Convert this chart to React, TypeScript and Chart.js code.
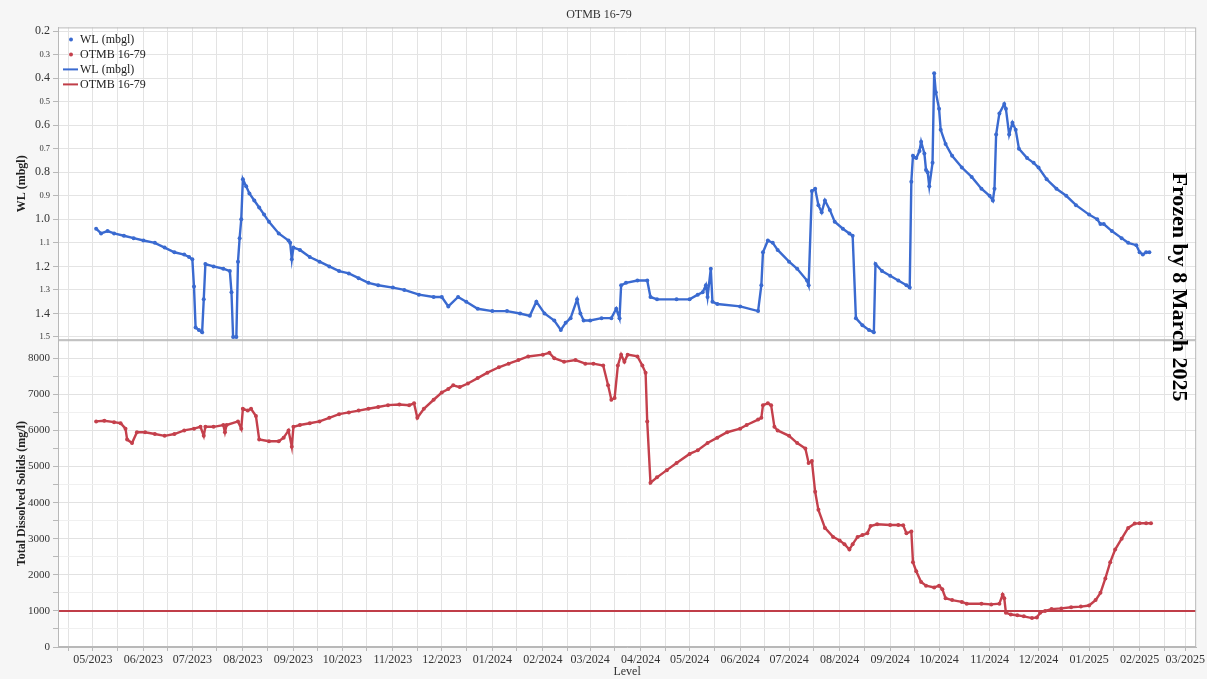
import React, { useEffect, useRef } from 'react';
import { Chart, registerables } from 'chart.js';

Chart.register(...registerables);

const FONT = '"Liberation Serif", "Times New Roman", serif';
const WL_COLOR = 'rgb(58,106,208)';
const TDS_COLOR = 'rgb(196,64,76)';
const LIMIT_COLOR = 'rgb(192,62,72)';

const chartTitle = 'OTMB 16-79';
const xTitle = 'Level';
const wlAxisTitle = 'WL (mbgl)';
const tdsAxisTitle = 'Total Dissolved Solids (mg/l)';
const noteText = 'Frozen by 8 March 2025';
const legendLabels = ['WL (mbgl)', 'OTMB 16-79', 'WL (mbgl)', 'OTMB 16-79'];

const xStart = '2023-04-10';
const xEnd = '2025-03-08';
const wlTicks = [0.2, 0.3, 0.4, 0.5, 0.6, 0.7, 0.8, 0.9, 1.0, 1.1, 1.2, 1.3, 1.4, 1.5];
const tdsTicks = [0, 500, 1000, 1500, 2000, 2500, 3000, 3500, 4000, 4500, 5000, 5500, 6000, 6500, 7000, 7500, 8000];
const tdsLimit = 1000;

const wlDates = [
  '2023-05-03', '2023-05-06', '2023-05-10', '2023-05-14', '2023-05-20', '2023-05-26', '2023-06-01', '2023-06-08',
  '2023-06-14', '2023-06-20', '2023-06-26', '2023-06-29', '2023-07-01', '2023-07-02', '2023-07-03', '2023-07-05',
  '2023-07-07', '2023-07-08', '2023-07-09', '2023-07-14', '2023-07-20', '2023-07-24', '2023-07-25', '2023-07-26',
  '2023-07-28', '2023-07-29', '2023-07-30', '2023-07-31', '2023-08-01', '2023-08-03', '2023-08-05', '2023-08-08',
  '2023-08-11', '2023-08-14', '2023-08-17', '2023-08-23', '2023-08-29', '2023-08-30', '2023-08-31', '2023-09-01',
  '2023-09-05', '2023-09-11', '2023-09-17', '2023-09-23', '2023-09-29', '2023-10-05', '2023-10-11', '2023-10-17',
  '2023-10-23', '2023-11-01', '2023-11-08', '2023-11-17', '2023-11-26', '2023-12-01', '2023-12-05', '2023-12-11',
  '2023-12-16', '2023-12-23', '2024-01-01', '2024-01-10', '2024-01-18', '2024-01-24', '2024-01-28', '2024-02-02',
  '2024-02-08', '2024-02-12', '2024-02-15', '2024-02-18', '2024-02-22', '2024-02-24', '2024-02-26', '2024-03-01',
  '2024-03-08', '2024-03-14', '2024-03-17', '2024-03-19', '2024-03-20', '2024-03-23', '2024-03-30', '2024-04-05',
  '2024-04-07', '2024-04-11', '2024-04-23', '2024-05-01', '2024-05-06', '2024-05-09', '2024-05-11', '2024-05-12',
  '2024-05-14', '2024-05-15', '2024-05-18', '2024-06-01', '2024-06-12', '2024-06-14', '2024-06-15', '2024-06-18',
  '2024-06-21', '2024-06-24', '2024-07-01', '2024-07-06', '2024-07-12', '2024-07-13', '2024-07-15', '2024-07-17',
  '2024-07-19', '2024-07-21', '2024-07-23', '2024-07-26', '2024-07-29', '2024-08-03', '2024-08-07', '2024-08-09',
  '2024-08-11', '2024-08-15', '2024-08-19', '2024-08-22', '2024-08-23', '2024-08-27', '2024-09-01', '2024-09-06',
  '2024-09-11', '2024-09-13', '2024-09-14', '2024-09-15', '2024-09-17', '2024-09-19', '2024-09-20', '2024-09-22',
  '2024-09-23', '2024-09-24', '2024-09-25', '2024-09-27', '2024-09-28', '2024-09-29', '2024-10-01', '2024-10-02',
  '2024-10-05', '2024-10-09', '2024-10-15', '2024-10-21', '2024-10-27', '2024-11-01', '2024-11-03', '2024-11-04',
  '2024-11-05', '2024-11-07', '2024-11-10', '2024-11-11', '2024-11-13', '2024-11-15', '2024-11-17', '2024-11-19',
  '2024-11-24', '2024-11-28', '2024-12-01', '2024-12-06', '2024-12-12', '2024-12-18', '2024-12-24', '2025-01-01',
  '2025-01-06', '2025-01-08', '2025-01-10', '2025-01-15', '2025-01-21', '2025-01-25', '2025-01-30', '2025-02-01',
  '2025-02-03', '2025-02-05', '2025-02-07',
];
const wlValues = [
  1.04, 1.06, 1.05, 1.06, 1.07, 1.08, 1.09, 1.10,
  1.12, 1.14, 1.15, 1.16, 1.17, 1.285, 1.46, 1.47,
  1.48, 1.34, 1.19, 1.20, 1.21, 1.22, 1.31, 1.50,
  1.50, 1.18, 1.08, 1.00, 0.83, 0.86, 0.89, 0.92,
  0.95, 0.98, 1.01, 1.06, 1.09, 1.10, 1.17, 1.12,
  1.13, 1.16, 1.18, 1.20, 1.22, 1.23, 1.25, 1.27,
  1.28, 1.29, 1.30, 1.32, 1.33, 1.33, 1.37, 1.33,
  1.35, 1.38, 1.39, 1.39, 1.40, 1.41, 1.35, 1.40,
  1.43, 1.47, 1.44, 1.42, 1.34, 1.40, 1.43, 1.43,
  1.42, 1.42, 1.38, 1.42, 1.28, 1.27, 1.26, 1.26,
  1.33, 1.34, 1.34, 1.34, 1.32, 1.31, 1.28, 1.33,
  1.21, 1.35, 1.36, 1.37, 1.39, 1.28, 1.14, 1.09,
  1.10, 1.13, 1.18, 1.21, 1.26, 1.28, 0.88, 0.87,
  0.94, 0.97, 0.92, 0.96, 1.01, 1.04, 1.06, 1.07,
  1.42, 1.45, 1.47, 1.48, 1.19, 1.22, 1.24, 1.26,
  1.28, 1.29, 0.84, 0.73, 0.74, 0.71, 0.67, 0.72,
  0.79, 0.80, 0.86, 0.76, 0.38, 0.46, 0.53, 0.62,
  0.68, 0.73, 0.78, 0.82, 0.87, 0.90, 0.92, 0.87,
  0.64, 0.55, 0.51, 0.53, 0.64, 0.59, 0.62, 0.70,
  0.74, 0.76, 0.78, 0.83, 0.87, 0.90, 0.94, 0.98,
  1.00, 1.02, 1.02, 1.05, 1.08, 1.10, 1.11, 1.14,
  1.15, 1.14, 1.14,
];

const tdsDates = [
  '2023-05-03', '2023-05-08', '2023-05-14', '2023-05-18', '2023-05-21', '2023-05-22', '2023-05-25', '2023-05-28',
  '2023-06-02', '2023-06-08', '2023-06-14', '2023-06-20', '2023-06-26', '2023-07-02', '2023-07-06', '2023-07-08',
  '2023-07-09', '2023-07-14', '2023-07-20', '2023-07-21', '2023-07-22', '2023-07-29', '2023-07-31', '2023-08-01',
  '2023-08-04', '2023-08-06', '2023-08-09', '2023-08-11', '2023-08-17', '2023-08-23', '2023-08-26', '2023-08-29',
  '2023-08-31', '2023-09-01', '2023-09-05', '2023-09-11', '2023-09-17', '2023-09-23', '2023-09-29', '2023-10-05',
  '2023-10-11', '2023-10-17', '2023-10-23', '2023-10-29', '2023-11-05', '2023-11-11', '2023-11-14', '2023-11-16',
  '2023-11-20', '2023-11-26', '2023-12-01', '2023-12-05', '2023-12-08', '2023-12-12', '2023-12-17', '2023-12-23',
  '2023-12-29', '2024-01-05', '2024-01-11', '2024-01-17', '2024-01-23', '2024-02-01', '2024-02-05', '2024-02-08',
  '2024-02-14', '2024-02-21', '2024-02-27', '2024-03-03', '2024-03-09', '2024-03-12', '2024-03-14', '2024-03-16',
  '2024-03-18', '2024-03-20', '2024-03-22', '2024-03-24', '2024-03-30', '2024-04-02', '2024-04-04', '2024-04-05',
  '2024-04-07', '2024-04-11', '2024-04-17', '2024-04-23', '2024-05-01', '2024-05-06', '2024-05-12', '2024-05-18',
  '2024-05-24', '2024-06-01', '2024-06-05', '2024-06-12', '2024-06-14', '2024-06-15', '2024-06-18', '2024-06-20',
  '2024-06-22', '2024-06-24', '2024-07-01', '2024-07-06', '2024-07-11', '2024-07-13', '2024-07-15', '2024-07-17',
  '2024-07-19', '2024-07-23', '2024-07-28', '2024-08-01', '2024-08-04', '2024-08-07', '2024-08-09', '2024-08-12',
  '2024-08-15', '2024-08-18', '2024-08-20', '2024-08-24', '2024-09-01', '2024-09-06', '2024-09-09', '2024-09-11',
  '2024-09-14', '2024-09-15', '2024-09-17', '2024-09-20', '2024-09-23', '2024-09-28', '2024-10-01', '2024-10-03',
  '2024-10-05', '2024-10-09', '2024-10-15', '2024-10-18', '2024-10-27', '2024-11-02', '2024-11-07', '2024-11-09',
  '2024-11-10', '2024-11-11', '2024-11-14', '2024-11-18', '2024-11-22', '2024-11-27', '2024-11-30', '2024-12-02',
  '2024-12-05', '2024-12-09', '2024-12-15', '2024-12-21', '2024-12-27', '2025-01-01', '2025-01-05', '2025-01-08',
  '2025-01-11', '2025-01-14', '2025-01-17', '2025-01-21', '2025-01-25', '2025-01-29', '2025-02-01', '2025-02-05',
  '2025-02-08',
];
const tdsValues = [
  6250, 6270, 6230, 6200, 6050, 5750, 5650, 5950,
  5950, 5900, 5850, 5900, 6000, 6050, 6100, 5850,
  6100, 6100, 6150, 5950, 6150, 6250, 6050, 6600,
  6550, 6600, 6400, 5750, 5700, 5700, 5800, 6000,
  5550, 6100, 6150, 6200, 6250, 6350, 6450, 6500,
  6550, 6600, 6650, 6700, 6720, 6700, 6750, 6350,
  6600, 6850, 7050, 7150, 7250, 7200, 7300, 7450,
  7600, 7750, 7850, 7950, 8050, 8100, 8150, 8000,
  7900, 7950, 7850, 7850, 7800, 7250, 6850, 6900,
  7800, 8100, 7900, 8100, 8050, 7800, 7600, 6250,
  4550, 4700, 4900, 5100, 5350, 5450, 5650, 5800,
  5950, 6050, 6150, 6300, 6350, 6700, 6750, 6700,
  6100, 6000, 5850, 5650, 5500, 5100, 5150, 4300,
  3800, 3300, 3050, 2950, 2850, 2700, 2850, 3050,
  3100, 3150, 3350, 3400, 3380, 3380, 3370, 3150,
  3200, 2350, 2100, 1800, 1700, 1650, 1700, 1600,
  1350, 1300, 1250, 1200, 1200, 1180, 1200, 1450,
  1350, 950, 900, 880, 850, 800, 820, 950,
  1000, 1050, 1070, 1100, 1120, 1150, 1300, 1500,
  1900, 2350, 2700, 3000, 3300, 3420, 3430, 3430,
  3430,
];

const DAY = 86400000;
const dayNum = (s: string) => {
  const [y, m, d] = s.split('-').map(Number);
  return Date.UTC(y, m - 1, d) / DAY;
};

const decorPlugin = {
  id: 'decor',
  beforeDraw(chart: any) {
    const { ctx, chartArea } = chart;
    const yw = chart.scales.yWL;
    const yt = chart.scales.yTDS;
    ctx.save();
    ctx.fillStyle = '#f6f6f6';
    ctx.fillRect(0, 0, chart.width, chart.height);
    ctx.fillStyle = '#ffffff';
    ctx.fillRect(chartArea.left, yw.top, chartArea.right - chartArea.left, yw.bottom - yw.top);
    ctx.fillRect(chartArea.left, yt.top, chartArea.right - chartArea.left, yt.bottom - yt.top);
    ctx.restore();
  },
  afterDraw(chart: any) {
    const { ctx, chartArea } = chart;
    const yw = chart.scales.yWL;
    const yt = chart.scales.yTDS;
    ctx.save();
    ctx.strokeStyle = '#b8b8b8';
    ctx.lineWidth = 1;
    ctx.strokeRect(chartArea.left + 0.5, yw.top + 0.5, chartArea.right - chartArea.left - 1, yw.bottom - yw.top - 1);
    ctx.strokeRect(chartArea.left + 0.5, yt.top + 0.5, chartArea.right - chartArea.left - 1, yt.bottom - yt.top - 1);

    // legend
    const lx = chartArea.left;
    const ly = chartArea.top;
    const rows = [12, 27, 42, 57];
    const colors = [WL_COLOR, TDS_COLOR, WL_COLOR, LIMIT_COLOR];
    ctx.font = `12px ${FONT}`;
    ctx.textBaseline = 'middle';
    ctx.textAlign = 'left';
    legendLabels.forEach((lab, i) => {
      const y = ly + rows[i];
      ctx.fillStyle = colors[i];
      ctx.strokeStyle = colors[i];
      if (i < 2) {
        ctx.beginPath();
        ctx.arc(lx + 13, y, 2, 0, Math.PI * 2);
        ctx.fill();
      } else {
        ctx.lineWidth = 2;
        ctx.beginPath();
        ctx.moveTo(lx + 5, y);
        ctx.lineTo(lx + 20, y);
        ctx.stroke();
      }
      ctx.fillStyle = '#222';
      ctx.fillText(lab, lx + 22, y + 0.5);
    });

    // rotated note
    ctx.translate(1179, 287);
    ctx.rotate(Math.PI / 2);
    ctx.font = `bold 22px ${FONT}`;
    ctx.textAlign = 'center';
    ctx.textBaseline = 'middle';
    ctx.fillStyle = '#000';
    ctx.fillText(noteText, 0, 0);
    ctx.restore();
  },
};

export default function App() {
  const ref = useRef<HTMLCanvasElement>(null);

  useEffect(() => {
    document.body.style.margin = '0';
    const wlData = wlDates.map((d, i) => ({ x: dayNum(d), y: wlValues[i] }));
    const tdsData = tdsDates.map((d, i) => ({ x: dayNum(d), y: tdsValues[i] }));
    const xMin = dayNum(xStart) - 0.4;
    const xMax = dayNum(xEnd) - 0.3;

    const chart = new Chart(ref.current as HTMLCanvasElement, {
      type: 'line',
      data: {
        datasets: [
          {
            label: 'WL (mbgl)',
            data: wlData,
            xAxisID: 'x',
            yAxisID: 'yWL',
            borderColor: WL_COLOR,
            backgroundColor: WL_COLOR,
            borderWidth: 2.4,
            pointRadius: 2,
            pointBorderWidth: 0,
            tension: 0,
          },
          {
            label: 'OTMB 16-79',
            data: tdsData,
            xAxisID: 'x',
            yAxisID: 'yTDS',
            borderColor: TDS_COLOR,
            backgroundColor: TDS_COLOR,
            borderWidth: 2.4,
            pointRadius: 2,
            pointBorderWidth: 0,
            tension: 0,
          },
          {
            label: 'OTMB 16-79 limit',
            data: [
              { x: xMin, y: tdsLimit },
              { x: xMax, y: tdsLimit },
            ],
            xAxisID: 'x',
            yAxisID: 'yTDS',
            borderColor: LIMIT_COLOR,
            borderWidth: 2,
            pointRadius: 0,
          },
        ],
      },
      options: {
        responsive: false,
        animation: false,
        layout: { padding: { left: 0, right: 9, top: 0, bottom: 0 } },
        plugins: {
          legend: { display: false },
          tooltip: { enabled: false },
          title: {
            display: true,
            text: chartTitle,
            color: '#333',
            font: { family: FONT, size: 12, weight: 'normal' },
            padding: { top: 8, bottom: 5 },
          },
        },
        scales: {
          x: {
            type: 'linear',
            min: xMin,
            max: xMax,
            afterFit: (axis: any) => {
              axis.height = 32;
            },
            afterBuildTicks: (axis: any) => {
              const ticks: any[] = [];
              for (let y = 2023; y <= 2025; y++) {
                for (let m = 0; m < 12; m++) {
                  for (const d of [1, 16]) {
                    const v = Date.UTC(y, m, d) / DAY;
                    if (v >= axis.min && v <= axis.max) ticks.push({ value: v });
                  }
                }
              }
              axis.ticks = ticks;
            },
            ticks: {
              autoSkip: false,
              maxRotation: 0,
              padding: 2,
              color: '#333',
              font: { family: FONT, size: 12 },
              callback: (value: any) => {
                const dt = new Date(Number(value) * DAY);
                if (dt.getUTCDate() !== 1) return '';
                const mm = String(dt.getUTCMonth() + 1).padStart(2, '0');
                return `${mm}/${dt.getUTCFullYear()}`;
              },
            },
            grid: { color: '#e3e3e3', tickLength: 4, tickColor: '#b8b8b8' },
            border: { color: '#b8b8b8' },
            title: {
              display: true,
              text: xTitle,
              color: '#333',
              font: { family: FONT, size: 12 },
              padding: { top: 0, bottom: 0 },
            },
          },
          yTDS: {
            type: 'linear',
            position: 'left',
            stack: 'main',
            stackWeight: 307,
            min: 0,
            max: 8500,
            afterFit: (axis: any) => {
              axis.width = 58;
            },
            afterBuildTicks: (axis: any) => {
              axis.ticks = tdsTicks.map((v) => ({ value: v }));
            },
            ticks: {
              autoSkip: false,
              padding: 3,
              color: '#333',
              font: { family: FONT, size: 11 },
              callback: (value: any) => (Number(value) % 1000 === 0 ? String(value) : ''),
            },
            grid: {
              color: (ctx: any) => (ctx.tick && ctx.tick.value % 1000 === 0 ? '#e2e2e2' : '#f0f0f0'),
              tickLength: 5,
              tickColor: '#b8b8b8',
            },
            border: { color: '#b8b8b8' },
            title: {
              display: true,
              text: tdsAxisTitle,
              color: '#222',
              font: { family: FONT, size: 12, weight: 'bold' },
              padding: { top: 15, bottom: 0 },
            },
          },
          yWL: {
            type: 'linear',
            position: 'left',
            stack: 'main',
            stackWeight: 313,
            reverse: true,
            min: 0.1847,
            max: 1.5136,
            afterFit: (axis: any) => {
              axis.width = 58;
            },
            afterBuildTicks: (axis: any) => {
              axis.ticks = wlTicks.map((v) => ({ value: v }));
            },
            ticks: {
              autoSkip: false,
              padding: 3,
              color: '#333',
              font: (ctx: any) => {
                const v = ctx.tick ? Math.round(ctx.tick.value * 10) : 2;
                return { family: FONT, size: v % 2 === 0 ? 12 : 8.5 };
              },
              callback: (value: any) => Number(value).toFixed(1),
            },
            grid: { color: '#e4e4e4', tickLength: 5, tickColor: '#b8b8b8' },
            border: { color: '#b8b8b8' },
            title: {
              display: true,
              text: wlAxisTitle,
              color: '#222',
              font: { family: FONT, size: 12, weight: 'bold' },
              padding: { top: 15, bottom: 0 },
            },
          },
        },
      } as any,
      plugins: [decorPlugin],
    });
    return () => chart.destroy();
  }, []);

  return (
    <div style={{ width: 1207, height: 679, position: 'relative', background: '#f6f6f6' }}>
      <canvas ref={ref} width={1207} height={679} style={{ display: 'block' }} />
    </div>
  );
}
